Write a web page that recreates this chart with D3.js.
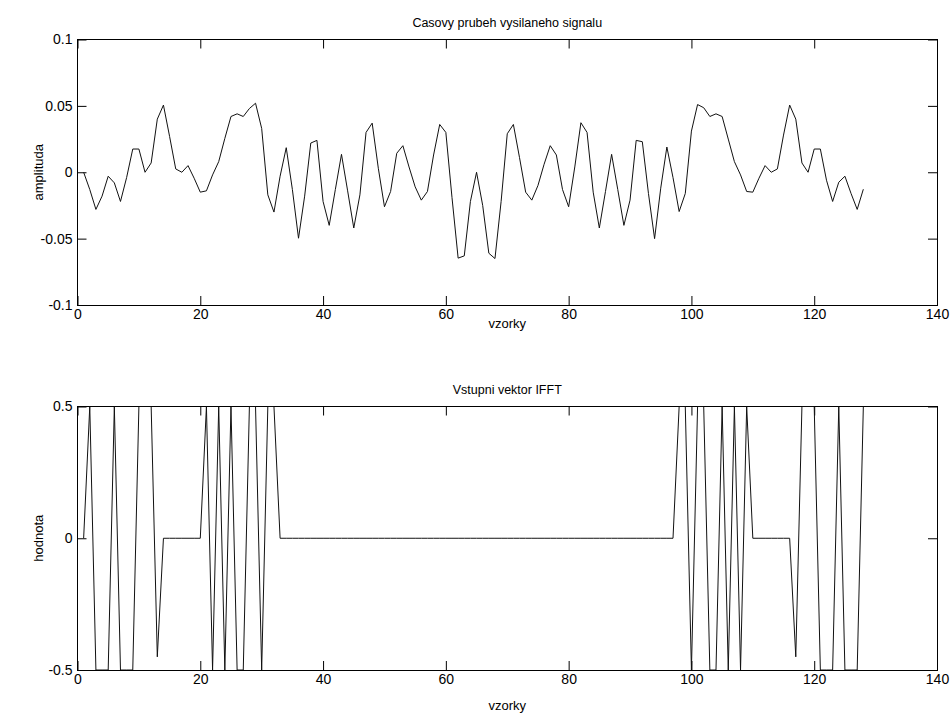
<!DOCTYPE html>
<html>
<head>
<meta charset="utf-8">
<script src="https://cdn.jsdelivr.net/npm/d3@7"></script>
<style>
  body { margin: 0; background: #fff; }
  svg { display: block; }
  text { font-family: "Liberation Sans", Arial, sans-serif; fill: #000; }
</style>
</head>
<body>
<svg id="fig" width="952" height="716"></svg>
<script>
// vysilany signal, vzorky 1..128
var signal = [
  0, -0.013, -0.028, -0.018, -0.003, -0.008, -0.022, -0.004, 0.0175, 0.0175,
  0, 0.007, 0.040, 0.0506, 0.027, 0.0025, 0, 0.005, -0.0045, -0.015,
  -0.014, -0.002, 0.008, 0.0255, 0.042, 0.044, 0.042, 0.048, 0.052, 0.033,
  -0.017, -0.030, -0.003, 0.0185, -0.013, -0.0497, -0.018, 0.022, 0.024, -0.022,
  -0.040, -0.013, 0.0135, -0.014, -0.042, -0.017, 0.030, 0.037, 0.003, -0.026,
  -0.0145, 0.0143, 0.020, 0.004, -0.011, -0.021, -0.0145, 0.013, 0.036, 0.030,
  -0.019, -0.0647, -0.063, -0.022, 0, -0.025, -0.061, -0.065, -0.022, 0.029,
  0.036, 0.011, -0.015, -0.021, -0.010, 0.006, 0.020, 0.013, -0.013, -0.026,
  0.004, 0.0373, 0.030, -0.015, -0.042, -0.0145, 0.0135, -0.013, -0.040, -0.021,
  0.024, 0.023, -0.016, -0.050, -0.012, 0.019, -0.004, -0.0296, -0.016, 0.031,
  0.051, 0.0486, 0.042, 0.044, 0.042, 0.025, 0.008, -0.002, -0.0145, -0.015,
  -0.0045, 0.005, 0, 0.0025, 0.028, 0.0506, 0.040, 0.007, 0, 0.0175,
  0.0175, -0.006, -0.022, -0.0075, -0.003, -0.016, -0.028, -0.0128
];

// vstupni vektor IFFT, vzorky 1..128
var ifftIn = [
  0, 0.5, -0.5, -0.5, -0.5, 0.5, -0.5, -0.5, -0.5, 0.5,
  0.5, 0.5, -0.45, 0, 0, 0, 0, 0, 0, 0,
  0.5, -0.5, 0.5, -0.5, 0.5, -0.5, -0.5, 0.5, 0.5, -0.5,
  0.5, 0.5, 0, 0, 0, 0, 0, 0, 0, 0,
  0, 0, 0, 0, 0, 0, 0, 0, 0, 0,
  0, 0, 0, 0, 0, 0, 0, 0, 0, 0,
  0, 0, 0, 0, 0, 0, 0, 0, 0, 0,
  0, 0, 0, 0, 0, 0, 0, 0, 0, 0,
  0, 0, 0, 0, 0, 0, 0, 0, 0, 0,
  0, 0, 0, 0, 0, 0, 0, 0.5, 0.5, -0.5,
  0.5, 0.5, -0.5, -0.5, 0.5, -0.5, 0.5, -0.5, 0.5, 0,
  0, 0, 0, 0, 0, 0, -0.45, 0.5, 0.5, 0.5,
  -0.5, -0.5, -0.5, 0.5, -0.5, -0.5, -0.5, 0.5
];

var xTicks = [0, 20, 40, 60, 80, 100, 120, 140];
var yTicksTop = [-0.1, -0.05, 0, 0.05, 0.1];
var yTicksBottom = [-0.5, 0, 0.5];

var svg = d3.select("#fig");
var left = 77.5, right = 937;

function panel(opts) {
  var x = d3.scaleLinear().domain([0, 140]).range([left, right]);
  var y = d3.scaleLinear().domain(opts.ydom).range([opts.bottom, opts.top]);
  var g = svg.append("g");

  g.append("clipPath").attr("id", opts.id)
    .append("rect")
    .attr("x", left).attr("y", opts.top)
    .attr("width", right - left).attr("height", opts.bottom - opts.top);

  // ticks inside, matlab style
  g.append("g").attr("transform", "translate(0," + opts.bottom + ")")
    .call(d3.axisBottom(x).tickValues(xTicks).tickSizeInner(-9).tickSizeOuter(0).tickPadding(4).tickFormat(d => String(d)));
  g.append("g").attr("transform", "translate(0," + opts.top + ")")
    .call(d3.axisTop(x).tickValues(xTicks).tickSizeInner(-9).tickSizeOuter(0).tickFormat(""));
  g.append("g").attr("transform", "translate(" + left + ",0)")
    .call(d3.axisLeft(y).tickValues(opts.yticks).tickSizeInner(-9).tickSizeOuter(0).tickPadding(5).tickFormat(d => String(d)));
  g.append("g").attr("transform", "translate(" + right + ",0)")
    .call(d3.axisRight(y).tickValues(opts.yticks).tickSizeInner(-9).tickSizeOuter(0).tickFormat(""));

  g.selectAll(".tick text").style("font-size", "14px")
    .style("font-family", "'Liberation Sans', Arial, sans-serif");
  g.selectAll(".domain").remove();
  g.selectAll(".tick line").attr("stroke", "#000");

  g.append("rect")
    .attr("x", left).attr("y", opts.top)
    .attr("width", right - left).attr("height", opts.bottom - opts.top)
    .attr("fill", "none").attr("stroke", "#000").attr("shape-rendering", "crispEdges");

  var line = d3.line().x((d, i) => x(i + 1)).y(d => y(d));
  g.append("path")
    .datum(opts.data)
    .attr("clip-path", "url(#" + opts.id + ")")
    .attr("d", line)
    .attr("fill", "none").attr("stroke", "#111").attr("stroke-width", 1);

  var cx = (left + right) / 2;
  g.append("text").attr("x", cx).attr("y", opts.top - 13)
    .attr("text-anchor", "middle").style("font-size", "12.5px").text(opts.title);
  g.append("text").attr("x", cx).attr("y", opts.bottom + opts.xlabOff)
    .attr("text-anchor", "middle").style("font-size", "13px").text("vzorky");
  g.append("text")
    .attr("transform", "translate(43," + ((opts.top + opts.bottom) / 2) + ") rotate(-90)")
    .attr("text-anchor", "middle").style("font-size", "13px").text(opts.ylabel);
}

panel({ id: "c1", top: 39.5, bottom: 305, ydom: [-0.1, 0.1], yticks: yTicksTop, xlabOff: 23,
        data: signal, title: "Casovy prubeh vysilaneho signalu", ylabel: "amplituda" });
panel({ id: "c2", top: 406.5, bottom: 670, ydom: [-0.5, 0.5], yticks: yTicksBottom, xlabOff: 40,
        data: ifftIn, title: "Vstupni vektor IFFT", ylabel: "hodnota" });
</script>
</body>
</html>
